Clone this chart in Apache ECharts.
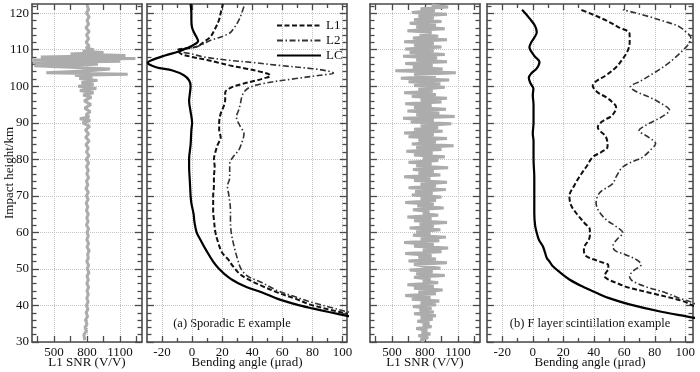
<!DOCTYPE html>
<html><head><meta charset="utf-8">
<script src="https://cdn.jsdelivr.net/npm/echarts@6/dist/echarts.min.js"></script>
<style>html,body{margin:0;padding:0;background:#fff}#c{width:700px;height:372px}</style>
</head><body><div id="c"></div>
<script>
// ---------- tick labels ----------
const heightLabels = [30,40,50,60,70,80,90,100,110,120];
const heightMinor = [32,34,36,38,42,44,46,48,52,54,56,58,62,64,66,68,72,74,76,78,82,84,86,88,92,94,96,98,102,104,106,108,112,114,116,118,122];
const snrLabels = [500,800,1100];
const snrMinor = [350,650,950,1250];
const bendLabels = [-20,0,20,40,60,80,100];
const bendMinor = [-10,10,30,50,70,90];

// ---------- (a) Sporadic E: L1 SNR [height km, SNR V/V] ----------
const snrA = [
[30.5,780],[31,790],[32,772],[33,795],[34,782],[35,800],[36,786],[37,805],[38,792],[39,808],[40,795],
[41,810],[42,798],[43,812],[44,800],[45,815],[46,798],[47,812],[48,800],[49,818],[50,802],[51,815],
[52,798],[53,812],[54,805],[55,820],[56,800],[57,815],[58,798],[59,812],[60,800],[61,815],[62,795],
[63,810],[64,798],[65,812],[66,795],[67,808],[68,792],[69,810],[70,795],[71,812],[72,790],[73,808],
[74,795],[75,815],[76,798],[77,812],[78,795],[79,815],[80,792],[81,818],[82,795],[83,812],[84,790],
[85,820],[86,788],[87,815],[88,785],[89,825],[90,760],[90.6,830],[91.1,735],[91.6,820],[92.2,790],
[93,830],[94,780],[95,835],[96,775],[97,840],[97.6,765],[98.2,860],[98.8,735],[99.4,885],[100,720],
[100.5,860],[101,750],[101.6,895],[102.1,730],[102.6,850],[103,690],[103.3,1170],[103.7,430],[104.2,820],
[104.7,1010],[105.1,700],[105.6,320],[106,900],[106.4,310],[106.8,1100],[107.2,300],[107.6,1240],
[108,380],[108.4,1150],[108.8,650],[109.2,950],[109.6,760],[110,860],[110.5,790],[111,820],[112,792],
[113,815],[114,795],[115,820],[116,790],[117,815],[118,800],[119,820],[120,795],[121,815],[122.2,800]
];

// ---------- (a) Sporadic E: bending angles [height km, angle urad] ----------
const L1a = [
[36.5,120],[37.7,104],[38.9,91],[40.3,78],[41.8,69],[43.5,57],[45.3,46.7],[47,38],[48.5,32],[50.8,27],
[52.6,24],[54.4,20],[57,17.5],[60,15.5],[63.5,14.5],[66,14],[70,14],[72.6,14.5],[75,14.5],[78,15],
[80,14.5],[82,15.5],[84,17],[86,19],[88,18],[90,18],[92.5,19],[94.5,21],[96.5,22],[98.3,22],[99.3,24.5],
[100,28],[100.7,34],[101.5,42],[102.2,48],[102.8,52],[103.3,51],[104,45],[104.8,36],[105.7,25],
[106.5,17],[107.2,10],[108,0],[108.8,-7],[109.8,-10],[110.7,2],[111.5,6],[112.2,8],[113.4,12],
[115.5,15],[118,17.8],[120,19],[122.5,20.5]
];
const L2a = [
[37,118],[38.2,104],[39.6,91],[40.8,80],[42.3,69],[44,57],[46.2,46.7],[48,37],[50,32.5],[53,30],
[56,28],[60,26],[63.5,25.5],[66,25.5],[70,24.5],[72.6,23.5],[75,25],[78.8,25],[80.5,27],[82.5,31],
[84.5,33],[87,34.5],[89,32],[91.6,29.5],[93.5,31],[95,32],[97,33],[98.4,34.5],[99.6,37.8],[100.7,46.7],
[102.1,69],[103,85],[103.6,94],[104.1,91],[104.8,80],[105.7,57.8],[106.5,40],[107.1,24.5],[108,8],
[108.8,0],[109.6,-8],[110.2,-6],[110.7,2],[111.5,7],[112.5,12],[114.4,24.5],[116,28],[118,31],
[120,33],[122.5,35]
];
const LCa = [
[36,118],[37.1,104],[38.2,91],[39.2,80],[40.3,69],[41.8,57],[43.5,47],[45,36.5],[46,31],[47.6,24.5],
[50,18],[52,14],[55,9.5],[58,5.5],[60,3],[63,1.5],[65,1],[68,-0.5],[70,-1],[74,-1.5],[78,-2],[80,-2],
[84,-1],[88,-0.5],[90,0],[93,-1],[96,-2],[98,-1.5],[100,-1],[101.6,-2],[103,-5.5],[104.3,-13],
[105.2,-24],[106.4,-29.5],[107.1,-27],[108.4,-18],[109.5,-9],[110.3,-4],[111.3,1],[112.4,4],
[113.4,3],[114.5,1.5],[116,0],[118,-0.5],[120,-0.5],[122.5,-1]
];

// ---------- (b) F layer scintillation: L1 SNR, sampled every 0.5 km from 30.2 km ----------
const snrB_start = 30.2, snrB_step = 0.5;
const snrB = [
790,760,830,740,850,770,820,720,860,780,840,730,870,760,900,700,880,750,860,690,900,
760,930,680,850,620,900,740,960,700,880,640,920,780,850,700,980,720,870,660,940,
800,700,1000,650,900,740,860,620,950,780,1010,700,880,610,930,760,990,690,850,720,
940,660,880,750,1000,700,860,640,920,780,840,690,970,730,880,620,900,760,950,680,
870,710,990,650,900,760,1000,700,850,610,940,740,880,690,1010,720,860,650,920,780,
980,700,870,630,950,720,1060,680,900,740,1000,650,880,610,960,700,920,760,1040,670,
880,600,1070,720,930,640,990,700,860,620,950,760,1000,680,900,610,870,740,980,700,
940,650,1020,580,900,700,1080,530,960,690,870,620,1000,720,910,600,980,660,880,620,
950,700,880,610,1000,690,920,750,860,640,980,720,900,660,950,700,880,740,1000,680,890,760,1010,860
];

// ---------- (b) F layer scintillation: bending angles ----------
const L1b = [
[38,120],[39.8,106],[41.2,98.3],[43.5,76.5],[45,62],[46.2,54.6],[47,50],[48,47],[49,48],[50,49.5],
[51,49.5],[52,44],[53.5,35],[55,33.5],[56.2,33.9],[57.5,36],[59,37.4],[60.8,37.4],[62.5,34],
[65.3,28.4],[67.5,25],[69.9,24],[72.9,27.3],[75.5,31],[77.9,35],[80.6,39.3],[82,45],[83.4,49],
[86.1,48],[88.8,42.6],[90.5,46],[92,52],[94.3,54.6],[95.7,52],[97,48],[98.5,42],[100.2,39.3],
[101.5,42],[103,48],[105.2,54.6],[107.5,59],[109.8,62.3],[112,63.5],[114.4,63.4],[116.2,56],
[118,48],[119.5,40],[120.9,31.7]
];
const L2b = [
[37.5,118],[38.5,112],[40.7,105],[42,96],[43.5,87],[45,75],[46.2,67.7],[47,64.5],[48,63.4],[49.5,66],
[51.2,71],[52.5,68],[54,60],[55,54],[56.2,52.5],[58,55],[59.9,59],[61.5,55],[63.5,48],[66,43],
[68.1,41.5],[70.8,43.7],[72.6,50],[73.4,52.5],[75.5,55],[77.9,59],[79.3,65],[80.6,72],[82.5,77],
[84.3,80.5],[86,76],[87.9,69.7],[89.3,74],[90.7,80.5],[92,86],[93.4,89.6],[95.3,84],[97,76.5],
[98.5,68],[99.8,64],[101.5,71],[103.9,80.5],[105.7,87],[107.7,93],[109.8,98.3],[111.5,102],
[113.4,103.5],[115,100],[116.3,96],[117.8,86],[119,76.5],[120.1,67],[120.9,59]
];
const LCb = [
[35.5,115],[36.6,106],[38.2,85],[40.3,63.4],[42,50],[43.5,41.5],[45.3,32],[47.1,24],[49,18],[50.8,13],
[52,11],[53,9.2],[54.5,8],[56.2,6.6],[58,4],[59.9,2.6],[62,1.5],[65.3,1],[70,1],[75,1],[80,0.5],
[85,0.5],[87,0],[90,0.5],[95,0.5],[97.5,0],[99.3,0.4],[100.8,-1.5],[102.3,-2.6],[103.5,-1],
[104.8,2.5],[106.6,4.4],[108.3,1],[110.7,-2.2],[112,-1],[113.3,1],[114.8,2.6],[116.5,1.5],
[118.5,-2],[120.9,-7]
];

// ---------- build chart ----------
const FONT = '"Liberation Serif", "Times New Roman", serif';
const INK = '#111';
const FRAME = '#4a4a4a';
const GRIDC = '#c4c4c4';
const TOP = 4, HEIGHT = 338, YMIN = 30, YMAX = 122.5;

const panels = [
  {left: 32, width: 110, min: 300, max: 1300, labels: snrLabels, minor: snrMinor, name: 'L1 SNR (V/V)', minorLen: 6},
  {left: 147, width: 200, min: -30, max: 103, labels: bendLabels, minor: bendMinor, name: 'Bending angle (\u03bcrad)', minorLen: 4},
  {left: 370, width: 110, min: 300, max: 1300, labels: snrLabels, minor: snrMinor, name: 'L1 SNR (V/V)', minorLen: 6},
  {left: 487, width: 206, min: -30, max: 105, labels: bendLabels, minor: bendMinor, name: 'Bending angle (\u03bcrad)', minorLen: 4}
];

const grids = [];
panels.forEach(p => grids.push({left: p.left, top: TOP, width: p.width, height: HEIGHT, containLabel: false, outerBoundsMode: 'none'}));
panels.forEach(p => grids.push({left: p.left, top: TOP, width: p.width, height: HEIGHT, containLabel: false, outerBoundsMode: 'none'}));

const lineStyle = {color: FRAME, width: 1.6};
const tickStyle = {color: FRAME, width: 1.3};
const labelStyle = {fontFamily: FONT, fontSize: 13, color: INK};

function axis(o) {
  return {
    type: 'value', gridIndex: o.grid, position: o.pos, min: o.min, max: o.max,
    axisLine: {show: !!o.line, onZero: false, lineStyle},
    axisTick: {show: true, inside: true, length: o.len, customValues: o.ticks, lineStyle: tickStyle},
    axisLabel: o.labels ? {show: true, customValues: o.labels, margin: o.margin, formatter: v => String(v), ...labelStyle} : {show: false},
    splitLine: o.split ? {show: true, lineStyle: {color: GRIDC, type: 'dotted', width: 1}} : {show: false},
    name: o.name || '', nameLocation: 'middle', nameGap: o.nameGap || 15, nameRotate: o.nameRotate,
    nameMoveOverlap: false,
    nameTextStyle: {fontFamily: FONT, fontSize: 13, color: INK},
    silent: true
  };
}

const xAxes = [], yAxes = [];
panels.forEach((p, i) => {
  xAxes.push(axis({grid: i, pos: 'bottom', min: p.min, max: p.max, line: true, len: 6, ticks: p.labels, labels: p.labels, margin: 4, split: true, name: p.name, nameGap: 14}));
  xAxes.push(axis({grid: i, pos: 'top', min: p.min, max: p.max, line: true, len: 6, ticks: p.labels}));
  yAxes.push(axis({grid: i, pos: 'left', min: YMIN, max: YMAX, line: true, len: 7, ticks: heightLabels,
    labels: i === 0 ? heightLabels : null, margin: 3, split: true,
    name: i === 0 ? 'Impact height/km' : '', nameGap: 16, nameRotate: 90}));
  yAxes.push(axis({grid: i, pos: 'right', min: YMIN, max: YMAX, line: true, len: 7, ticks: heightLabels}));
});
panels.forEach((p, i) => {
  xAxes.push(axis({grid: 4 + i, pos: 'bottom', min: p.min, max: p.max, len: p.minorLen, ticks: p.minor}));
  xAxes.push(axis({grid: 4 + i, pos: 'top', min: p.min, max: p.max, len: p.minorLen, ticks: p.minor}));
  yAxes.push(axis({grid: 4 + i, pos: 'left', min: YMIN, max: YMAX, len: 4.5, ticks: heightMinor}));
  yAxes.push(axis({grid: 4 + i, pos: 'right', min: YMIN, max: YMAX, len: 4.5, ticks: heightMinor}));
});

function toPairs(arr) { return arr.map(d => [d[1], d[0]]); }
const snrBPairs = snrB.map((v, k) => [v, snrB_start + k * snrB_step]);

const styles = {
  L1: {color: '#111', width: 2, type: [5, 2.5]},
  L2: {color: '#333', width: 1.6, type: [6, 2.5, 1.5, 2.5]},
  LC: {color: '#000', width: 2.2, type: 'solid'}
};
function bend(name, data, idx) {
  return {type: 'line', name, xAxisIndex: idx, yAxisIndex: idx, data: toPairs(data), symbol: 'none',
    legendIcon: 'none',
    smooth: 0.35, lineStyle: styles[name], itemStyle: {color: styles[name].color}, z: 4, silent: true};
}
function snr(data, idx) {
  return {type: 'line', name: 'SNR' + idx, xAxisIndex: idx, yAxisIndex: idx, data, symbol: 'none',
    lineStyle: {color: '#acacac', width: 3}, itemStyle: {color: '#acacac'}, z: 3, silent: true};
}

const option = {
  animation: false,
  backgroundColor: '#fff',
  grid: grids,
  xAxis: xAxes,
  yAxis: yAxes,
  legend: {
    data: ['L1', 'L2', 'LC'], orient: 'vertical', left: 271, top: 14,
    itemWidth: 44, itemHeight: 10, itemGap: 2, selectedMode: false,
    itemStyle: {opacity: 0, color: 'rgba(0,0,0,0)', borderWidth: 0},
    textStyle: {fontFamily: FONT, fontSize: 13, color: INK}
  },
  series: [
    snr(toPairs(snrA), 0),
    bend('L1', L1a, 2), bend('L2', L2a, 2), bend('LC', LCa, 2),
    snr(snrBPairs, 4),
    bend('L1', L1b, 6), bend('L2', L2b, 6), bend('LC', LCb, 6)
  ],
  graphic: [
    {type: 'text', x: 232, y: 324, silent: true, style: {text: '(a) Sporadic E example', font: '12.5px ' + FONT, fill: INK, align: 'center', verticalAlign: 'middle'}},
    {type: 'text', x: 590, y: 324, silent: true, style: {text: '(b) F layer scintillation example', font: '12.5px ' + FONT, fill: INK, align: 'center', verticalAlign: 'middle'}}
  ]
};

const chart = echarts.init(document.getElementById('c'), null, {renderer: 'canvas'});
chart.setOption(option);
</script></body></html>
